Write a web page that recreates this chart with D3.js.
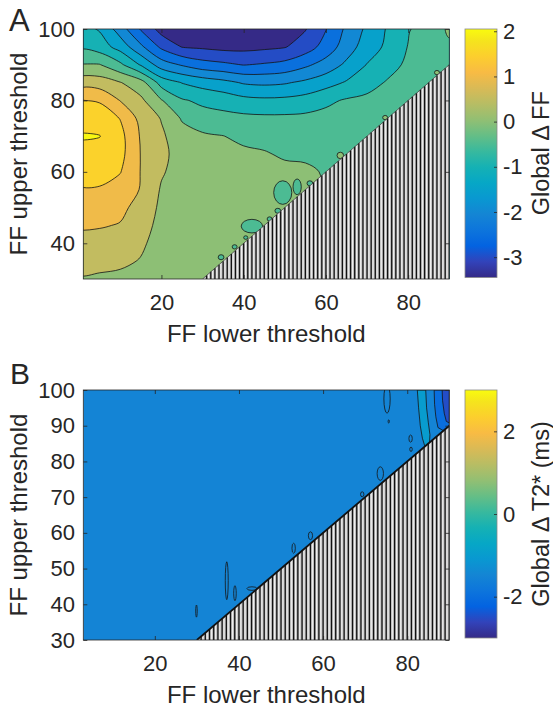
<!DOCTYPE html>
<html>
<head>
<meta charset="utf-8">
<script src="https://cdn.jsdelivr.net/npm/d3@7"></script>
<style>
  body { margin: 0; background: #ffffff; }
  svg text { font-family: "Liberation Sans", Arial, Helvetica, sans-serif; fill: #262626; }
</style>
</head>
<body>
<script>
// ---------------------------------------------------------------
// Panel A: global change in fat fraction (Δ FF) over the grid of
// FF lower / upper thresholds, sampled every 5 FF units.
// null = lower threshold above upper threshold (not evaluated).
// ---------------------------------------------------------------
const gridLowerA = [0, 5, 10, 15, 20, 25, 30, 35, 40, 45, 50, 55, 60, 65, 70, 75, 80, 85, 90];
const gridUpperA = [100, 95, 90, 85, 80, 75, 70, 65, 60, 55, 50, 45, 40, 35, 30];

const dffU100 = [-0.8, -1.05, -1.75, -2.55, -3.2, -3.35, -3.42, -3.47, -3.44, -3.32, -3.15, -3.03, -2.52, -1.9, -1.4, -0.95, -0.55, -0.2, 0.05];
const dffU95  = [-0.6, -0.75, -1.2, -1.9, -2.6, -3.02, -3.08, -3.15, -3.15, -3.1, -3.03, -2.75, -2.3, -1.75, -1.25, -0.9, -0.48, -0.25, -0.05];
const dffU90  = [0.02, 0.02, -0.4, -1.05, -1.75, -2.05, -2.3, -2.4, -2.52, -2.45, -2.35, -2.1, -1.8, -1.4, -0.98, -0.7, -0.4, -0.2, -0.1];
const dffU85  = [0.75, 0.75, 0.52, 0.2, -0.7, -1.02, -1.2, -1.35, -1.55, -1.6, -1.55, -1.4, -1.2, -0.95, -0.7, -0.45, -0.3, -0.15, null];
const dffU80  = [1.52, 1.45, 0.98, 0.6, 0.03, -0.45, -0.6, -0.7, -0.85, -0.9, -0.88, -0.8, -0.6, -0.45, -0.38, -0.3, -0.22, null, null];
const dffU75  = [1.8, 1.8, 1.48, 0.85, 0.47, -0.05, -0.3, -0.35, -0.38, -0.4, -0.4, -0.38, -0.35, -0.3, -0.25, -0.2, null, null, null];
const dffU70  = [2.04, 2.01, 1.65, 0.95, 0.58, 0.2, 0.08, 0.01, -0.12, -0.2, -0.2, -0.2, -0.2, -0.2, -0.15, null, null, null, null];
const dffU65  = [1.85, 1.85, 1.65, 0.98, 0.62, 0.3, 0.2, 0.15, 0.1, 0.05, -0.08, -0.1, -0.15, -0.15, null, null, null, null, null];
const dffU60  = [1.7, 1.7, 1.52, 0.98, 0.55, 0.3, 0.2, 0.2, 0.2, 0.2, 0.15, 0.1, -0.05, null, null, null, null, null, null];
const dffU55  = [1.45, 1.45, 1.3, 0.97, 0.45, 0.25, 0.2, 0.2, 0.2, 0.2, 0.2, 0.2, null, null, null, null, null, null, null];
const dffU50  = [1.25, 1.25, 1.12, 0.82, 0.4, 0.22, 0.2, 0.2, 0.2, 0.2, 0.2, null, null, null, null, null, null, null, null];
const dffU45  = [1.05, 1.04, 0.97, 0.7, 0.35, 0.2, 0.2, 0.2, 0.2, 0.2, null, null, null, null, null, null, null, null, null];
const dffU40  = [0.85, 0.8, 0.75, 0.58, 0.3, 0.2, 0.2, 0.2, 0.2, null, null, null, null, null, null, null, null, null, null];
const dffU35  = [0.7, 0.65, 0.6, 0.47, 0.25, 0.2, 0.2, 0.2, null, null, null, null, null, null, null, null, null, null, null];
const dffU30  = [0.45, 0.42, 0.38, 0.25, 0.15, 0.15, 0.2, null, null, null, null, null, null, null, null, null, null, null, null];
const dffRows = [dffU100, dffU95, dffU90, dffU85, dffU80, dffU75, dffU70, dffU65, dffU60, dffU55, dffU50, dffU45, dffU40, dffU35, dffU30];

const levelsA = [-3, -2.5, -2, -1.5, -1, -0.5, 0, 0.5, 1, 1.5, 2];
const colorRangeA = [-3.45, 2.05];

// small closed contours just above the diagonal: [lower, upper, half-width, half-height, level]
const islandsA = [
  [49.5, 54.2, 2.2, 3.3, -0.5],
  [53.0, 55.8, 1.0, 2.2, -0.5],
  [56.1, 56.8, 0.7, 0.7, -0.5],
  [48.3, 49.1, 0.7, 0.7, -0.5],
  [46.3, 46.8, 0.6, 0.6, -0.5],
  [42.0, 44.8, 2.6, 1.9, -0.5],
  [40.5, 41.6, 0.5, 0.5, -0.5],
  [37.8, 39.0, 0.6, 0.6, -0.5],
  [34.5, 36.1, 0.7, 0.7, -0.5],
  [63.5, 64.6, 0.8, 0.9, 0],
  [74.4, 75.2, 0.6, 0.6, 0],
  [87.0, 87.8, 0.6, 0.6, 0]
];

// ---------------------------------------------------------------
// Panel B: global change in T2* (ms). Nearly uniform, with a band
// structure in the upper right corner and small closed contours.
// ---------------------------------------------------------------
const baseLevelB = -1.5;
const colorRangeB = [-3, 3];
const t2BandTeal = [[82.4, 100], [84.4, 100], [84.6, 95], [85, 91], [85.4, 87.5], [85.3, 85.3], [84.2, 84.2], [83.6, 86.5], [83.1, 90], [82.7, 95]];
const t2BandDark = [[86.4, 100], [90, 100], [90, 90], [88.6, 88.6], [87.3, 89.5], [86.8, 92.5], [86.5, 96]];
const t2BandNavy = [[88.3, 100], [90, 100], [90, 90.8], [89.3, 91.2], [88.8, 93.5], [88.4, 97]];
const t2Bands = [
  { level: -1, pts: t2BandTeal },
  { level: -2, pts: t2BandDark },
  { level: -2.5, pts: t2BandNavy }
];
// closed contour loops: [lower, upper, half-width, half-height]
const loopsB = [
  [37.1, 46.6, 0.35, 5.3],
  [39.05, 43.1, 0.3, 2.1],
  [29.9, 38.1, 0.18, 1.7],
  [43.1, 44.4, 1.2, 0.5],
  [53.0, 55.7, 0.4, 1.4],
  [57.0, 59.2, 0.5, 1.1],
  [73.6, 76.6, 0.75, 1.9],
  [69.3, 70.8, 0.4, 0.7],
  [80.8, 86.4, 0.4, 1.0],
  [80.9, 83.4, 0.3, 0.6],
  [75.6, 91.2, 0.15, 0.45],
  [75.2, 97.5, 0.75, 4.0]
];

// axis ticks
const xTicks = [20, 40, 60, 80];
const yTicksA = [40, 60, 80, 100];
const yTicksB = [30, 40, 50, 60, 70, 80, 90, 100];
const cbTicksA = [-3, -2, -1, 0, 1, 2];
const cbTicksB = [-2, 0, 2];

// parula colour map, sampled stops
const parulaStops = ["#352a87", "#3243ba", "#0363e1", "#0d75dc", "#1485d4", "#0998d1", "#06a7c6", "#15b1b4",
  "#38b99e", "#65be86", "#92bf73", "#b7bd64", "#d9ba56", "#f8bb44", "#fcce2e", "#f5e41d", "#f9fb0e"];
const parulaPos = [0, 4, 8, 12, 16, 20, 24, 28, 32, 36, 40, 44, 48, 52, 56, 60, 63].map(i => i / 63);
const parula = d3.scaleLinear().domain(parulaPos).range(parulaStops).interpolate(d3.interpolateRgb).clamp(true);
const colorFor = range => v => parula((v - range[0]) / (range[1] - range[0]));

// ---------------------------------------------------------------
const ink = "#262626";
const font = "'Liberation Sans', Arial, Helvetica, sans-serif";
const svg = d3.select("body").append("svg").attr("width", 553).attr("height", 709);
const defs = svg.append("defs");

const boxA = { left: 83.3, right: 449.3, top: 29, bottom: 279 };
const boxB = { left: 83.3, right: 449.3, top: 390, bottom: 640 };
const cbBoxA = { left: 465, right: 497, top: 29, bottom: 277.5 };
const cbBoxB = { left: 465, right: 497, top: 390, bottom: 638 };

const xA = d3.scaleLinear().domain([1, 90]).range([boxA.left, boxA.right]);
const yA = d3.scaleLinear().domain([30, 100]).range([boxA.bottom, boxA.top]);
const xB = d3.scaleLinear().domain([3, 90]).range([boxB.left, boxB.right]);
const yB = d3.scaleLinear().domain([30, 100]).range([boxB.bottom, boxB.top]);

function clipFor(id, box) {
  defs.append("clipPath").attr("id", id).append("rect")
    .attr("x", box.left).attr("y", box.top)
    .attr("width", box.right - box.left).attr("height", box.bottom - box.top);
  return svg.append("g").attr("clip-path", `url(#${id})`);
}

const closedCurve = d3.line().curve(d3.curveCatmullRomClosed.alpha(0.5));

// filled contour plot from a regular grid (rows top -> bottom)
function drawFilledContours(g, rows, lower, upper, x, y, levels, color, minValue) {
  const ny = rows.length, nx = rows[0].length;
  const stepX = lower[1] - lower[0], stepY = upper[0] - upper[1];
  const grid = rows.map(r => r.slice());
  for (let i = 0; i < nx; i++) for (let j = 1; j < ny; j++) if (grid[j][i] == null) grid[j][i] = grid[j - 1][i];
  const values = [].concat(...grid);
  const toPx = ([gx, gy]) => [x(lower[0] + (gx - 0.5) * stepX), y(upper[0] - (gy - 0.5) * stepY)];
  const contours = d3.contours().size([nx, ny]).thresholds(levels)(values);
  const pathOf = c => c.coordinates.map(poly => poly.map(ring => closedCurve(ring.slice(0, -1).map(toPx))).join("")).join("");
  const [x0, x1] = x.range(), [y0, y1] = y.range();
  g.append("rect").attr("x", x0).attr("y", y1).attr("width", x1 - x0).attr("height", y0 - y1).attr("fill", color(minValue));
  contours.forEach(c => g.append("path").attr("d", pathOf(c)).attr("fill", color(c.value)).attr("fill-rule", "evenodd"));
  contours.forEach(c => g.append("path").attr("d", pathOf(c)).attr("fill", "none")
    .attr("stroke", "#151515").attr("stroke-width", 0.8));
}

// region where the lower threshold exceeds the upper one
function drawHatch(g, x, y) {
  const [lo, hi] = x.domain(), [ylo, yhi] = y.domain();
  const start = Math.max(lo, ylo);
  const region = [[start, start], [hi, Math.min(hi, yhi)], [hi, ylo]];
  g.append("path").attr("d", d3.line()(region.map(p => [x(p[0]), y(p[1])])) + "Z").attr("fill", "#bfbfbf");
  const cols = d3.range(Math.ceil(start), Math.floor(hi) + 1);
  g.selectAll(null).data(cols.filter(c => c + 0.45 <= hi)).join("line")
    .attr("x1", c => x(c + 0.45)).attr("x2", c => x(c + 0.45))
    .attr("y1", c => y(Math.min(c + 0.45, yhi))).attr("y2", y(ylo))
    .attr("stroke", "#f0f0f0").attr("stroke-width", 1.1);
  g.selectAll(null).data(cols).join("line")
    .attr("x1", c => x(c)).attr("x2", c => x(c))
    .attr("y1", c => y(Math.min(c, yhi))).attr("y2", y(ylo))
    .attr("stroke", "#111").attr("stroke-width", 1.3);
}

function styleAxis(sel) {
  sel.select(".domain").remove();
  sel.attr("font-family", font).attr("font-size", 22);
  sel.selectAll(".tick line").attr("stroke", ink).attr("stroke-width", 0.8);
  sel.selectAll("text").attr("fill", ink);
}

function drawAxes(box, x, y, yTicks) {
  const g = svg.append("g");
  g.append("g").attr("transform", `translate(0,${box.bottom})`)
    .call(d3.axisBottom(x).tickValues(xTicks).tickSize(-4).tickPadding(15).tickFormat(d => String(d))).call(styleAxis);
  g.append("g").attr("transform", `translate(0,${box.top})`)
    .call(d3.axisTop(x).tickValues(xTicks).tickSize(-4).tickFormat("")).call(styleAxis);
  g.append("g").attr("transform", `translate(${box.left},0)`)
    .call(d3.axisLeft(y).tickValues(yTicks).tickSize(-4).tickPadding(8.3).tickFormat(d => String(d))).call(styleAxis);
  g.append("g").attr("transform", `translate(${box.right},0)`)
    .call(d3.axisRight(y).tickValues(yTicks).tickSize(-4).tickFormat("")).call(styleAxis);
  g.append("rect").attr("x", box.left).attr("y", box.top)
    .attr("width", box.right - box.left).attr("height", box.bottom - box.top)
    .attr("fill", "none").attr("stroke", ink).attr("stroke-width", 0.8);
  g.append("text").attr("x", (box.left + box.right) / 2).attr("y", box.bottom + 63)
    .attr("text-anchor", "middle").attr("font-size", 24).text("FF lower threshold");
  g.append("text").attr("transform", `translate(27,${(box.top + box.bottom) / 2}) rotate(-90)`)
    .attr("text-anchor", "middle").attr("font-size", 24).text("FF upper threshold");
}

function drawColorbar(id, box, range, ticks, label) {
  const grad = defs.append("linearGradient").attr("id", id).attr("x1", 0).attr("y1", 1).attr("x2", 0).attr("y2", 0);
  parulaStops.forEach((c, i) => grad.append("stop").attr("offset", parulaPos[i]).attr("stop-color", c));
  svg.append("rect").attr("x", box.left).attr("y", box.top)
    .attr("width", box.right - box.left).attr("height", box.bottom - box.top)
    .attr("fill", `url(#${id})`).attr("stroke", "#8a8a8a").attr("stroke-width", 0.8);
  const s = d3.scaleLinear().domain(range).range([box.bottom, box.top]);
  svg.append("g").attr("transform", `translate(${box.right},0)`)
    .call(d3.axisRight(s).tickValues(ticks).tickSize(-3).tickPadding(6).tickFormat(d => String(d))).call(styleAxis);
  svg.append("text").attr("transform", `translate(549,${(box.top + box.bottom) / 2}) rotate(-90)`)
    .attr("text-anchor", "middle").attr("font-size", 23.5).text(label);
}

// ---------------- Panel A ----------------
const colorA = colorFor(colorRangeA);
const plotA = clipFor("clipA", boxA);
drawFilledContours(plotA, dffRows, gridLowerA, gridUpperA, xA, yA, levelsA, colorA, colorRangeA[0]);
plotA.selectAll(null).data(islandsA).join("ellipse")
  .attr("cx", d => xA(d[0])).attr("cy", d => yA(d[1]))
  .attr("rx", d => xA(d[0] + d[2]) - xA(d[0])).attr("ry", d => yA(d[1] - d[3]) - yA(d[1]))
  .attr("fill", d => colorA(d[4])).attr("stroke", "#151515").attr("stroke-width", 0.8);
drawHatch(plotA, xA, yA);
plotA.append("line").attr("x1", xA(30)).attr("y1", yA(30)).attr("x2", xA(90)).attr("y2", yA(90))
  .attr("stroke", "#333").attr("stroke-width", 0.7);
drawAxes(boxA, xA, yA, yTicksA);
drawColorbar("cbA", cbBoxA, colorRangeA, cbTicksA, "Global Δ FF");

// ---------------- Panel B ----------------
const colorB = colorFor(colorRangeB);
const plotB = clipFor("clipB", boxB);
plotB.append("rect").attr("x", boxB.left).attr("y", boxB.top)
  .attr("width", boxB.right - boxB.left).attr("height", boxB.bottom - boxB.top).attr("fill", colorB(baseLevelB));
const polyLine = d3.line().curve(d3.curveLinearClosed);
plotB.selectAll(null).data(t2Bands).join("path")
  .attr("d", d => polyLine(d.pts.map(p => [xB(p[0]), yB(p[1])])))
  .attr("fill", d => colorB(d.level)).attr("stroke", "#151515").attr("stroke-width", 0.8);
plotB.selectAll(null).data(loopsB).join("ellipse")
  .attr("cx", d => xB(d[0])).attr("cy", d => yB(d[1]))
  .attr("rx", d => xB(d[0] + d[2]) - xB(d[0])).attr("ry", d => yB(d[1] - d[3]) - yB(d[1]))
  .attr("fill", "none").attr("stroke", "#151515").attr("stroke-width", 0.8);
drawHatch(plotB, xB, yB);
plotB.append("line").attr("x1", xB(30)).attr("y1", yB(30)).attr("x2", xB(90)).attr("y2", yB(90))
  .attr("stroke", "#111").attr("stroke-width", 1.8);
drawAxes(boxB, xB, yB, yTicksB);
drawColorbar("cbB", cbBoxB, colorRangeB, cbTicksB, "Global Δ T2* (ms)");

// panel letters
svg.append("text").attr("x", 9).attr("y", 31).attr("font-size", 31).text("A");
svg.append("text").attr("x", 10).attr("y", 384).attr("font-size", 30).text("B");
</script>
</body>
</html>
